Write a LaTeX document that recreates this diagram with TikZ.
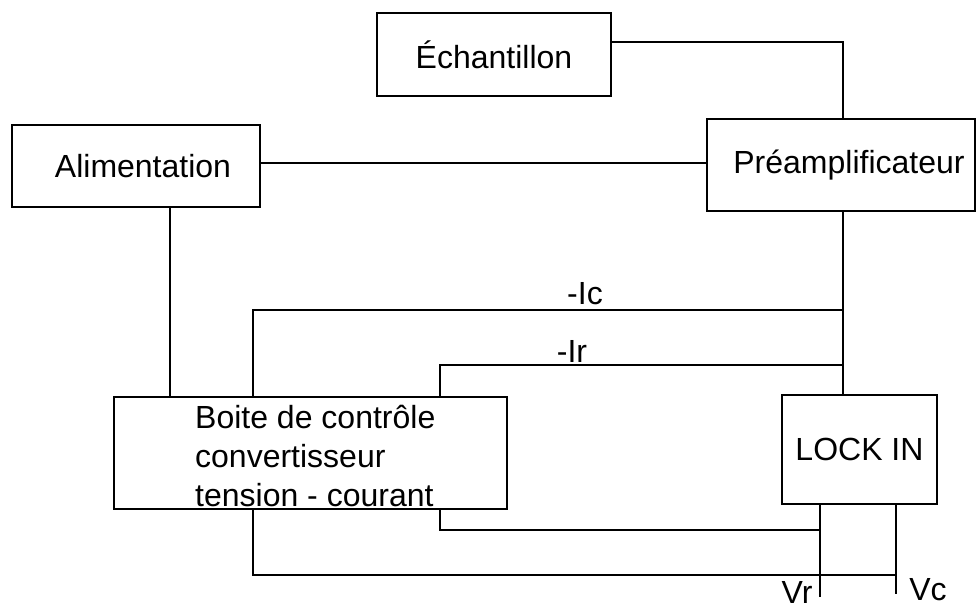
\documentclass[tikz,border=0pt]{standalone}
\usepackage{fontspec}
\setmainfont{Liberation Sans}
\begin{document}
\begin{tikzpicture}[x=1pt,y=-1pt,
  blockbox/.style={draw,line width=1.5pt,inner sep=0pt,font=\fontsize{32}{39}\selectfont},
  wire/.style={line width=1.5pt},
  lbl/.style={inner sep=0pt,font=\fontsize{32}{39}\selectfont}]
\useasboundingbox (0,0) rectangle (980,610);

% blocks
\node[blockbox,minimum width=234pt,minimum height=83pt] (ech) at (494,54.5) {Échantillon};
\node[blockbox,minimum width=248pt,minimum height=82pt] (ali) at (136,166) {\hspace{14pt}Alimentation};
\node[blockbox,minimum width=268pt,minimum height=92pt] (pre) at (841,165) {\hspace{16pt}Préamplificateur};
\node[blockbox,minimum width=393pt,minimum height=112pt] (boite) at (310.5,453) {};
\node[lbl,anchor=west,align=left] (boitetxt) at (195,456) {Boite de contrôle\\convertisseur\\tension - courant};
\node[blockbox,minimum width=155pt,minimum height=109pt] (lock) at (859.5,449.5) {LOCK IN};

% junction points on the measurement bus
\coordinate (bus) at (843,0);
\coordinate (icjoin) at (843,310);
\coordinate (irjoin) at (843,365);
\coordinate (vrjoin) at (820,530);
\coordinate (vcjoin) at (896,575);
\coordinate (vrend) at (820,597);
\coordinate (vcend) at (896,594);

% connections
\draw[wire] (ech.east |- 0,42) -| (pre.north -| bus);
\draw[wire] (ali.east |- 0,163) -- (pre.west |- 0,163);
\draw[wire] (pre.south -| bus) -- (lock.north -| bus);
\draw[wire] (ali.south -| 170,0) -- (boite.north -| 170,0);
\draw[wire] (boite.north -| 253,0) |- (icjoin);
\draw[wire] (boite.north -| 440,0) |- (irjoin);
\draw[wire] (boite.south -| 440,0) |- (vrjoin);
\draw[wire] (boite.south -| 253,0) |- (vcjoin);
\draw[wire] (lock.south -| vrend) -- (vrend);
\draw[wire] (lock.south -| vcend) -- (vcend);

% signal labels
\node[lbl] (iclbl) at (585,294) {-Ic};
\node[lbl] (irlbl) at (572,351) {-Ir};
\node[lbl] (vrlbl) at (797,592) {Vr};
\node[lbl] (vclbl) at (928,590) {Vc};
\end{tikzpicture}
\end{document}
